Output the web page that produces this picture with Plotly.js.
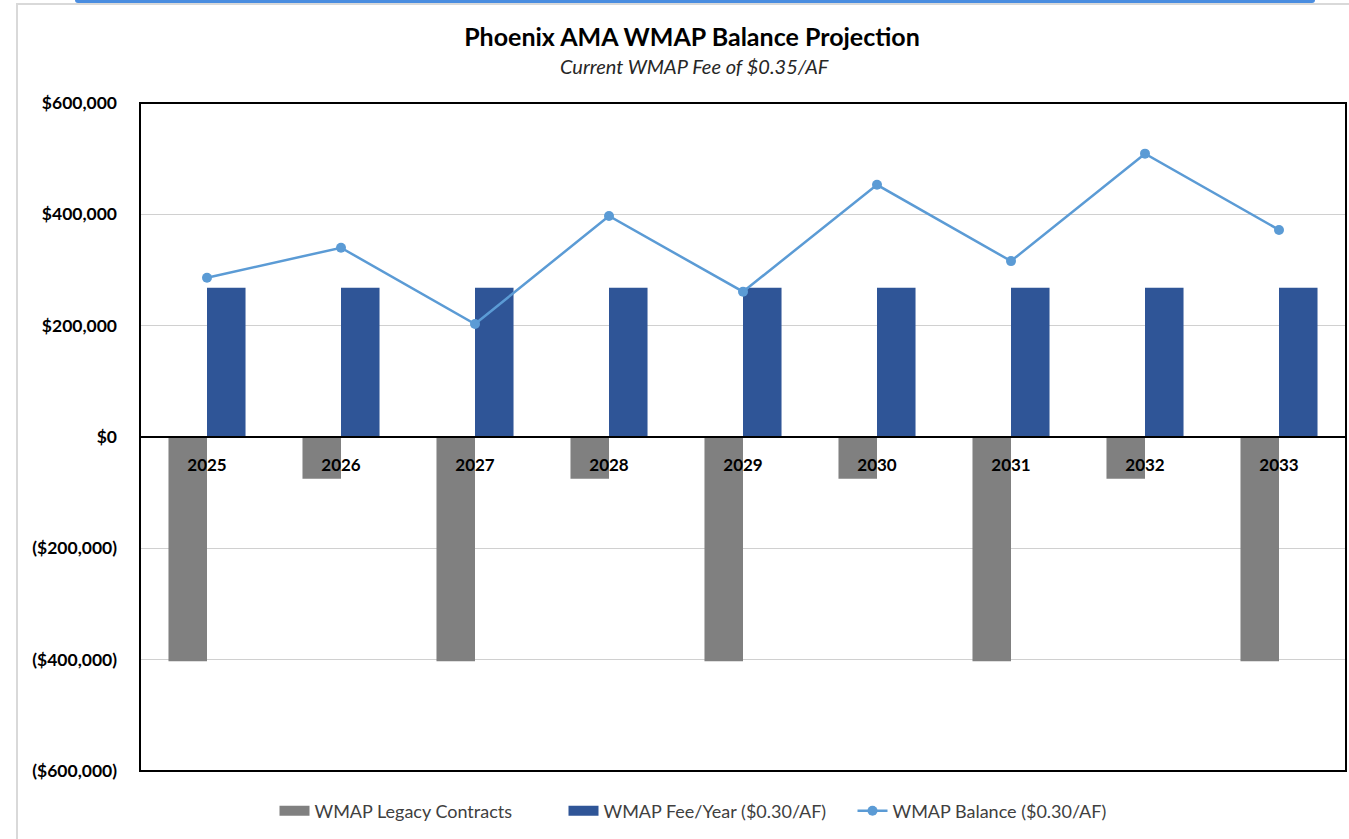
<!DOCTYPE html>
<html>
<head>
<meta charset="utf-8">
<script src="https://cdn.plot.ly/plotly-3.0.1.min.js"></script>
<style>
  html, body { margin: 0; padding: 0; background: #ffffff; }
  #wrap { position: relative; width: 1349px; height: 839px; overflow: hidden; }
  #frame { position: absolute; left: 16px; top: 3px; width: 1400px; height: 900px; border-left: 2px solid #d9d9d9; border-top: 2px solid #d9d9d9; }
  #topbar { position: absolute; left: 75px; top: 0; width: 1240px; height: 3px; background: #4a8de0; border-radius: 0 0 40px 40px; }
  #chart { position: absolute; left: 0; top: 0; width: 1349px; height: 839px; }
</style>
</head>
<body>
<div id="wrap">
  <div id="frame"></div>
  <div id="topbar"></div>
  <div id="chart"></div>
</div>
<script>
const years = ['2025', '2026', '2027', '2028', '2029', '2030', '2031', '2032', '2033'];
const legacyContracts = [-403000, -75000, -403000, -75000, -403000, -75000, -403000, -75000, -403000];
const feePerYear = [268000, 268000, 268000, 268000, 268000, 268000, 268000, 268000, 268000];
const balance = [286000, 340000, 203000, 397000, 261000, 453000, 316000, 509000, 372000];
const yTickVals = [-600000, -400000, -200000, 0, 200000, 400000, 600000];
const yTickText = ['($600,000)', '($400,000)', '($200,000)', '$0', '$200,000', '$400,000', '$600,000'];
const seriesNames = ['WMAP Legacy Contracts', 'WMAP Fee/Year ($0.30/AF)', 'WMAP Balance ($0.30/AF)'];

const FONT = 'Lato, "Open Sans", sans-serif';
const GRAY = '#808080', NAVY = '#2f5597', LIGHT = '#5b9bd5';

const traces = [
  {
    type: 'bar', name: seriesNames[0], x: years, y: legacyContracts,
    marker: { color: GRAY }, hoverinfo: 'skip', showlegend: false
  },
  {
    type: 'bar', name: seriesNames[1], x: years, y: feePerYear,
    marker: { color: NAVY }, hoverinfo: 'skip', showlegend: false
  },
  {
    type: 'scatter', mode: 'lines+markers', name: seriesNames[2], x: years, y: balance,
    line: { color: LIGHT, width: 2.5 }, marker: { color: LIGHT, size: 10 }, hoverinfo: 'skip', showlegend: false
  },
  // legend-only entries (wide rectangular swatches like the original)
  { type: 'scatter', mode: 'lines', name: seriesNames[0], x: [null], y: [null],
    line: { color: GRAY, width: 12 }, hoverinfo: 'skip' },
  { type: 'scatter', mode: 'lines', name: seriesNames[1], x: [null], y: [null],
    line: { color: NAVY, width: 12 }, hoverinfo: 'skip' },
  { type: 'scatter', mode: 'lines+markers', name: seriesNames[2], x: [null], y: [null],
    line: { color: LIGHT, width: 2.5 }, marker: { color: LIGHT, size: 10 }, hoverinfo: 'skip' }
];

const layout = {
  width: 1349, height: 839,
  paper_bgcolor: 'rgba(0,0,0,0)', plot_bgcolor: '#ffffff',
  margin: { l: 140, r: 3, t: 103, b: 68 },
  font: { family: FONT, color: '#000000' },
  title: {
    text: '<b>Phoenix AMA WMAP Balance Projection</b>',
    x: 692 / 1349, xref: 'container', xanchor: 'center',
    y: 1 - 37 / 839, yref: 'container', yanchor: 'middle',
    font: { family: FONT, size: 25, color: '#000000' }
  },
  annotations: [{
    text: '<i>Current WMAP Fee of $0.35/AF</i>', showarrow: false,
    xref: 'paper', yref: 'paper',
    x: (694 - 140) / 1206, y: 1 + (103 - 66) / 668, xanchor: 'center', yanchor: 'middle',
    font: { family: FONT, size: 20, color: '#262626' }
  }],
  barmode: 'group', bargap: 0.425, bargroupgap: 0,
  xaxis: {
    type: 'category', categoryorder: 'array', categoryarray: years,
    anchor: 'free', position: 0.5, showline: false, showgrid: false,
    ticks: '', ticklabelstandoff: 16, zeroline: false,
    tickfont: { family: FONT, size: 17, color: '#000000', weight: 'bold' }
  },
  yaxis: {
    range: [-600000, 600000], tickvals: yTickVals, ticktext: yTickText,
    showgrid: true, gridcolor: '#d0d0d0', gridwidth: 1.6, zeroline: false,
    showline: false, ticks: '', ticklabelstandoff: 22,
    tickfont: { family: FONT, size: 17.5, color: '#000000', weight: 'bold' }
  },
  shapes: [
    { type: 'rect', xref: 'paper', yref: 'paper', x0: 0, x1: 1, y0: 0, y1: 1,
      line: { color: '#000000', width: 2 }, layer: 'above' },
    { type: 'line', xref: 'paper', yref: 'y', x0: 0, x1: 1, y0: 0, y1: 0,
      line: { color: '#000000', width: 2 }, layer: 'above' }
  ],
  legend: {
    orientation: 'h', x: 708 / 1349, xref: 'container', xanchor: 'center',
    y: 1 - 811 / 839, yref: 'container', yanchor: 'middle',
    font: { family: FONT, size: 18, color: '#404040' }, traceorder: 'normal',
    entrywidth: 244, entrywidthmode: 'pixels'
  },
  showlegend: true
};

Plotly.newPlot('chart', traces, layout, { staticPlot: true, displayModeBar: false });
</script>
</body>
</html>
